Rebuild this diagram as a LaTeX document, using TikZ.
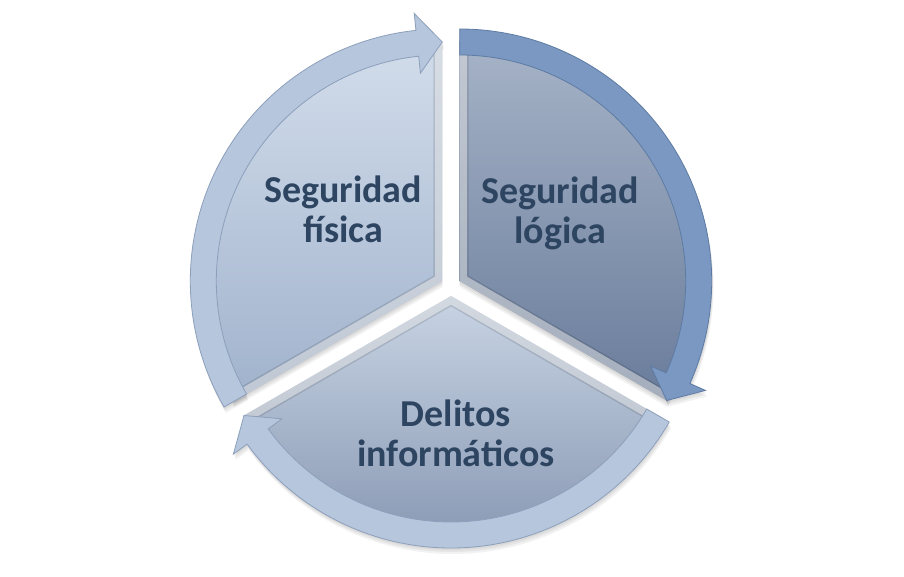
\documentclass[tikz,border=0pt]{standalone}
\usepackage{fontspec}
\setmainfont{Carlito}
\definecolor{txt}{HTML}{2E4562}
\definecolor{lTop}{HTML}{D2DDEB}
\definecolor{lBot}{HTML}{A0B2CC}
\definecolor{rTop}{HTML}{A6B3C7}
\definecolor{rBot}{HTML}{697C9B}
\definecolor{bTop}{HTML}{C8D4E4}
\definecolor{bBot}{HTML}{8292AE}
\definecolor{ringL}{HTML}{B6C6DC}
\definecolor{ringLline}{HTML}{8C9FBB}
\definecolor{ringR}{HTML}{7B98C2}
\definecolor{ringRline}{HTML}{5E7BA3}
\newcommand\sectorshape[3]{\path[#3] (0,0) -- (#1:240) arc[start angle=#1, end angle=#2, radius=240] -- cycle;}
\newcommand\ringarrow[4]{\path[#4] (#1:252) arc[start angle=#1, end angle=#3, radius=252] -- (#3:269) -- (#2:239) -- (#3:209) -- (#3:226) arc[start angle=#3, end angle=#1, radius=226] -- cycle;}
\begin{document}
\begin{tikzpicture}[x=1pt,y=1pt,
  lbl/.style={font=\fontsize{38}{40}\selectfont\bfseries, text=txt, align=center, inner sep=0pt},
  shadowfill/.style={fill=black, opacity=0.05},
  bevelline/.style={draw=black, opacity=0.12, line width=18},
  bevel/.style={draw=white, opacity=0.45, line width=15}]
\useasboundingbox (0,0) rectangle (904,576);
\fill[white] (0,0) rectangle (904,576);

% ---------- shadows ----------
\foreach \cx/\cy/\a/\b in {442.3/295/90/210, 459.7/295/-30/90, 451/280/210/330}{
  \begin{scope}[shift={(\cx,\cy)}]
    \foreach \o in {2,4,6}{
      \begin{scope}[shift={(0,-\o)}]
        \sectorshape{\a}{\b}{shadowfill}
      \end{scope}}
  \end{scope}}
\foreach \cx/\cy/\a/\b/\h in {442.3/295/210/90/96, 459.7/295/90/-30/-24, 451/280/-30/-150/-144}{
  \begin{scope}[shift={(\cx,\cy)}]
    \foreach \o in {2,4,6}{
      \begin{scope}[shift={(\o*0.3,-\o)}]
        \ringarrow{\a}{\b}{\h}{shadowfill}
      \end{scope}}
  \end{scope}}

% ---------- left segment: Seguridad fisica ----------
\begin{scope}[shift={(442.3,295)}]
  \sectorshape{90}{210}{top color=lTop, bottom color=lBot}
  \begin{scope}
    \sectorshape{90}{210}{clip}
    \sectorshape{90}{210}{bevelline}
    \sectorshape{90}{210}{bevel}
  \end{scope}
\end{scope}

% ---------- right segment: Seguridad logica ----------
\begin{scope}[shift={(459.7,295)}]
  \sectorshape{-30}{90}{top color=rTop, bottom color=rBot}
  \begin{scope}
    \sectorshape{-30}{90}{clip}
    \sectorshape{-30}{90}{bevelline}
    \sectorshape{-30}{90}{bevel}
  \end{scope}
\end{scope}

% ---------- bottom segment: Delitos informaticos ----------
\begin{scope}[shift={(451,280)}]
  \sectorshape{210}{330}{top color=bTop, bottom color=bBot}
  \begin{scope}
    \sectorshape{210}{330}{clip}
    \sectorshape{210}{330}{bevelline}
    \sectorshape{210}{330}{bevel}
  \end{scope}
\end{scope}

% ---------- ring arrows ----------
\begin{scope}[shift={(442.3,295)}]
  \ringarrow{210}{90}{96}{fill=ringL, draw=ringLline, line width=0.8}
\end{scope}
\begin{scope}[shift={(459.7,295)}]
  \ringarrow{90}{-30}{-24}{fill=ringR, draw=ringRline, line width=0.8}
\end{scope}
\begin{scope}[shift={(451,280)}]
  \ringarrow{-30}{-150}{-144}{fill=ringL, draw=ringLline, line width=0.8}
\end{scope}

% ---------- labels ----------
\node[lbl] (fisica) at (343,367) {Seguridad\\física};
\node[lbl] (logica) at (560,363) {Seguridad\\lógica};
\node[lbl] (delitos) at (456,143) {Delitos\\informáticos};
\end{tikzpicture}
\end{document}
